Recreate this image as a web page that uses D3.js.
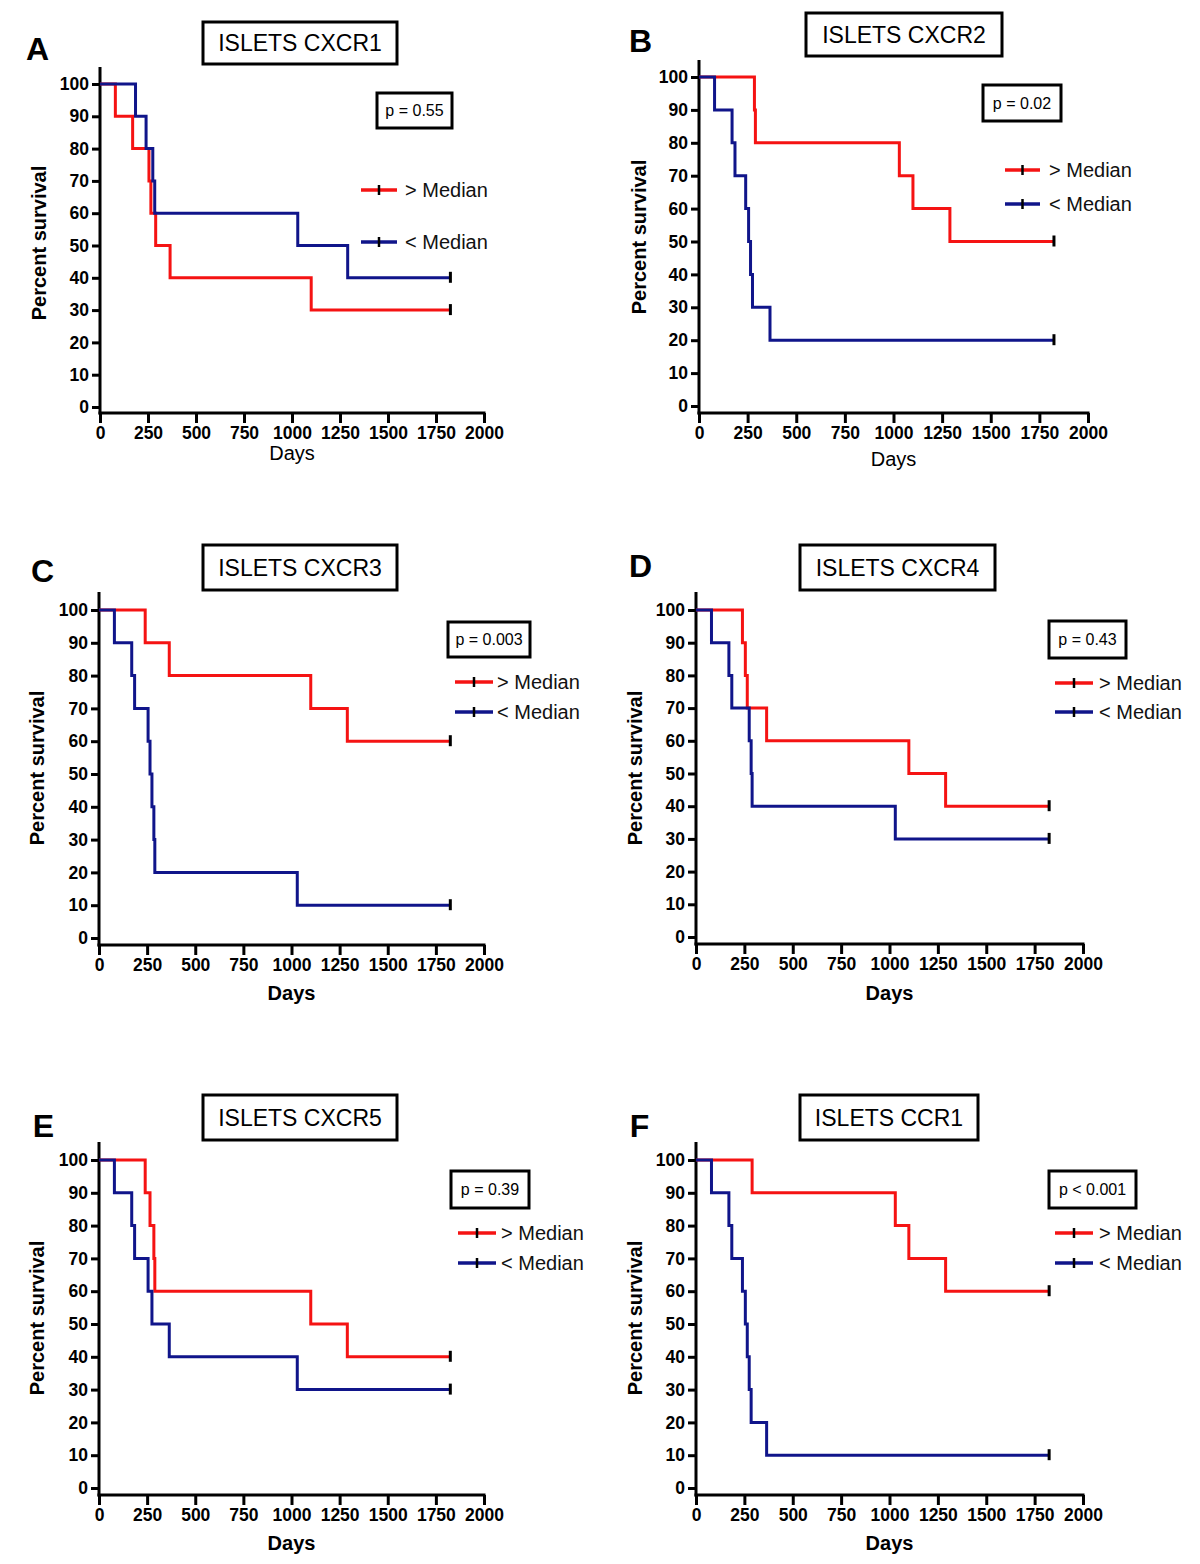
<!DOCTYPE html>
<html>
<head>
<meta charset="utf-8">
<script src="https://cdnjs.cloudflare.com/ajax/libs/d3/7.8.5/d3.min.js"></script>
<style>
  body { margin: 0; background: #fff; }
  svg { display: block; font-family: Arial, "Liberation Sans", sans-serif; }
</style>
</head>
<body>
<svg id="chart" width="1200" height="1564"></svg>
<script>
// panel data
var letters = ["A", "B", "C", "D", "E", "F"];
var titles = ["ISLETS CXCR1", "ISLETS CXCR2", "ISLETS CXCR3", "ISLETS CXCR4", "ISLETS CXCR5", "ISLETS CCR1"];
var pTexts = ["p = 0.55", "p = 0.02", "p = 0.003", "p = 0.43", "p = 0.39", "p < 0.001"];
var legendLabels = ["> Median", "< Median"];
var xTicks = [0, 250, 500, 750, 1000, 1250, 1500, 1750, 2000];
var yTicks = [0, 10, 20, 30, 40, 50, 60, 70, 80, 90, 100];

// > Median (red) step curves
var highDays = [
  [0, 80, 170, 255, 265, 290, 365, 1100, 1825],
  [0, 285, 290, 1030, 1100, 1290, 1825],
  [0, 240, 365, 1100, 1290, 1825],
  [0, 240, 255, 265, 365, 1100, 1290, 1825],
  [0, 240, 265, 285, 290, 1100, 1290, 1825],
  [0, 290, 1030, 1100, 1290, 1825]
];
var highSurv = [
  [100, 90, 80, 70, 60, 50, 40, 30, 30],
  [100, 90, 80, 70, 60, 50, 50],
  [100, 90, 80, 70, 60, 60],
  [100, 90, 80, 70, 60, 50, 40, 40],
  [100, 90, 80, 70, 60, 50, 40, 40],
  [100, 90, 80, 70, 60, 60]
];
// < Median (blue) step curves
var lowDays = [
  [0, 185, 240, 275, 285, 1030, 1290, 1825],
  [0, 80, 170, 185, 240, 255, 265, 275, 365, 1825],
  [0, 80, 170, 185, 255, 265, 275, 285, 290, 1030, 1825],
  [0, 80, 170, 185, 275, 285, 290, 1030, 1825],
  [0, 80, 170, 185, 255, 275, 365, 1030, 1825],
  [0, 80, 170, 185, 240, 255, 265, 275, 285, 365, 1825]
];
var lowSurv = [
  [100, 90, 80, 70, 60, 50, 40, 40],
  [100, 90, 80, 70, 60, 50, 40, 30, 20, 20],
  [100, 90, 80, 70, 60, 50, 40, 30, 20, 10, 10],
  [100, 90, 80, 70, 60, 50, 40, 30, 30],
  [100, 90, 80, 70, 60, 50, 40, 30, 30],
  [100, 90, 80, 70, 60, 50, 40, 30, 20, 10, 10]
];

var RED = "#f51313", BLUE = "#10158a";

// where each panel sits on the page
var layout = [
  {x0: 100, x1: 484, yTop: 84, yBot: 407, axisY: 413, axisTop: 67, letter: [37.5, 60], title: [203, 22, 194, 42], pbox: [377, 93, 75, 35], leg: [361, 397, 190, 242, 405], daysY: 460, psX: 46, psY: 243},
  {x0: 699, x1: 1088, yTop: 77, yBot: 406, axisY: 413, axisTop: 60, letter: [640.5, 52], title: [806, 13, 196, 43], pbox: [983, 85, 78, 36], leg: [1005, 1040, 170, 204, 1049], daysY: 466, psX: 646, psY: 237},
  {x0: 99, x1: 484, yTop: 610, yBot: 938, axisY: 945, axisTop: 592, letter: [42.5, 582], title: [203, 545, 194, 45], pbox: [448, 622, 82, 35], leg: [455, 493, 682, 712, 497], daysY: 1000, psX: 44, psY: 768},
  {x0: 696, x1: 1083, yTop: 610, yBot: 937, axisY: 944, axisTop: 592, letter: [640.5, 577], title: [800, 545, 195, 45], pbox: [1049, 621, 77, 37], leg: [1055, 1093, 683, 712, 1099], daysY: 1000, psX: 642, psY: 768},
  {x0: 99, x1: 484, yTop: 1160, yBot: 1488, axisY: 1495, axisTop: 1142, letter: [43.5, 1137], title: [203, 1095, 194, 45], pbox: [451, 1171, 78, 37], leg: [458, 496, 1233, 1263, 501], daysY: 1550, psX: 44, psY: 1318},
  {x0: 696, x1: 1083, yTop: 1160, yBot: 1488, axisY: 1495, axisTop: 1142, letter: [639.5, 1137], title: [800, 1095, 178, 45], pbox: [1049, 1171, 87, 37], leg: [1055, 1093, 1233, 1263, 1099], daysY: 1550, psX: 642, psY: 1318}
];

var svg = d3.select("#chart");

function drawPanel(i) {
  var L = layout[i];
  var g = svg.append("g").attr("id", "panel_" + letters[i]);

  var x = d3.scaleLinear().domain([0, 2000]).range([L.x0, L.x1]);
  var y = d3.scaleLinear().domain([0, 100]).range([L.yBot, L.yTop]);

  // panel letter
  g.append("text")
    .attr("x", L.letter[0]).attr("y", L.letter[1])
    .attr("text-anchor", "middle")
    .attr("font-size", 32).attr("font-weight", "bold")
    .text(letters[i]);

  // title box
  g.append("rect")
    .attr("x", L.title[0]).attr("y", L.title[1])
    .attr("width", L.title[2]).attr("height", L.title[3])
    .attr("fill", "#fff").attr("stroke", "#000").attr("stroke-width", 3);
  g.append("text")
    .attr("x", L.title[0] + L.title[2] / 2).attr("y", L.title[1] + L.title[3] / 2)
    .attr("dy", "0.36em")
    .attr("text-anchor", "middle")
    .attr("font-size", 23)
    .text(titles[i]);

  // axes
  var yAxis = g.append("g")
    .attr("transform", "translate(" + L.x0 + ",0)")
    .call(d3.axisLeft(y).tickValues(yTicks).tickSize(8).tickPadding(3).tickSizeOuter(0));
  var xAxis = g.append("g")
    .attr("transform", "translate(0," + L.axisY + ")")
    .call(d3.axisBottom(x).tickValues(xTicks).tickFormat(d3.format("d"))
      .tickSize(10).tickPadding(4).tickSizeOuter(0));
  [yAxis, xAxis].forEach(function(a) {
    a.select(".domain").remove();
    a.selectAll(".tick line").attr("stroke", "#000").attr("stroke-width", 3);
    a.selectAll(".tick text")
      .attr("fill", "#000")
      .attr("font-size", 17.5).attr("font-weight", "bold")
      .attr("font-family", "Arial, 'Liberation Sans', sans-serif");
  });
  g.append("line")
    .attr("x1", L.x0).attr("x2", L.x0)
    .attr("y1", L.axisTop).attr("y2", L.axisY + 1.5)
    .attr("stroke", "#000").attr("stroke-width", 3);
  g.append("line")
    .attr("x1", L.x0 - 1.5).attr("x2", L.x1 + 1.5)
    .attr("y1", L.axisY).attr("y2", L.axisY)
    .attr("stroke", "#000").attr("stroke-width", 3);

  // axis titles
  g.append("text")
    .attr("x", (L.x0 + L.x1) / 2).attr("y", L.daysY)
    .attr("text-anchor", "middle")
    .attr("font-size", 20).attr("font-weight", i < 2 ? "normal" : "bold")
    .text("Days");
  g.append("text")
    .attr("transform", "translate(" + L.psX + "," + L.psY + ") rotate(-90)")
    .attr("text-anchor", "middle")
    .attr("font-size", 20).attr("font-weight", "bold")
    .text("Percent survival");

  // survival curves, red underneath
  var line = d3.line()
    .x(function(d) { return x(d[0]); })
    .y(function(d) { return y(d[1]); })
    .curve(d3.curveStepAfter);

  var series = [
    {days: highDays[i], surv: highSurv[i], color: RED},
    {days: lowDays[i], surv: lowSurv[i], color: BLUE}
  ];
  series.forEach(function(s) {
    var pts = s.days.map(function(d, k) { return [d, s.surv[k]]; });
    g.append("path")
      .datum(pts)
      .attr("d", line)
      .attr("fill", "none")
      .attr("stroke", s.color)
      .attr("stroke-width", 3);
    // censor mark at the last point
    var last = pts[pts.length - 1];
    g.append("line")
      .attr("x1", x(last[0])).attr("x2", x(last[0]))
      .attr("y1", y(last[1]) - 6).attr("y2", y(last[1]) + 5)
      .attr("stroke", "#000").attr("stroke-width", 3);
  });

  // p value box
  g.append("rect")
    .attr("x", L.pbox[0]).attr("y", L.pbox[1])
    .attr("width", L.pbox[2]).attr("height", L.pbox[3])
    .attr("fill", "#fff").attr("stroke", "#000").attr("stroke-width", 3);
  g.append("text")
    .attr("x", L.pbox[0] + L.pbox[2] / 2).attr("y", L.pbox[1] + L.pbox[3] / 2)
    .attr("dy", "0.36em")
    .attr("text-anchor", "middle")
    .attr("font-size", 16)
    .text(pTexts[i]);

  // legend
  [RED, BLUE].forEach(function(c, k) {
    var ly = L.leg[2 + k];
    g.append("line")
      .attr("x1", L.leg[0]).attr("x2", L.leg[1])
      .attr("y1", ly).attr("y2", ly)
      .attr("stroke", c).attr("stroke-width", 3.5);
    var mid = (L.leg[0] + L.leg[1]) / 2;
    g.append("line")
      .attr("x1", mid).attr("x2", mid)
      .attr("y1", ly - 5).attr("y2", ly + 5)
      .attr("stroke", "#000").attr("stroke-width", 2.5);
    g.append("text")
      .attr("x", L.leg[4]).attr("y", ly)
      .attr("dy", "0.36em")
      .attr("font-size", 20)
      .attr("fill", "#111")
      .text(legendLabels[k]);
  });
}

for (var i = 0; i < letters.length; i++) {
  drawPanel(i);
}
</script>
</body>
</html>
